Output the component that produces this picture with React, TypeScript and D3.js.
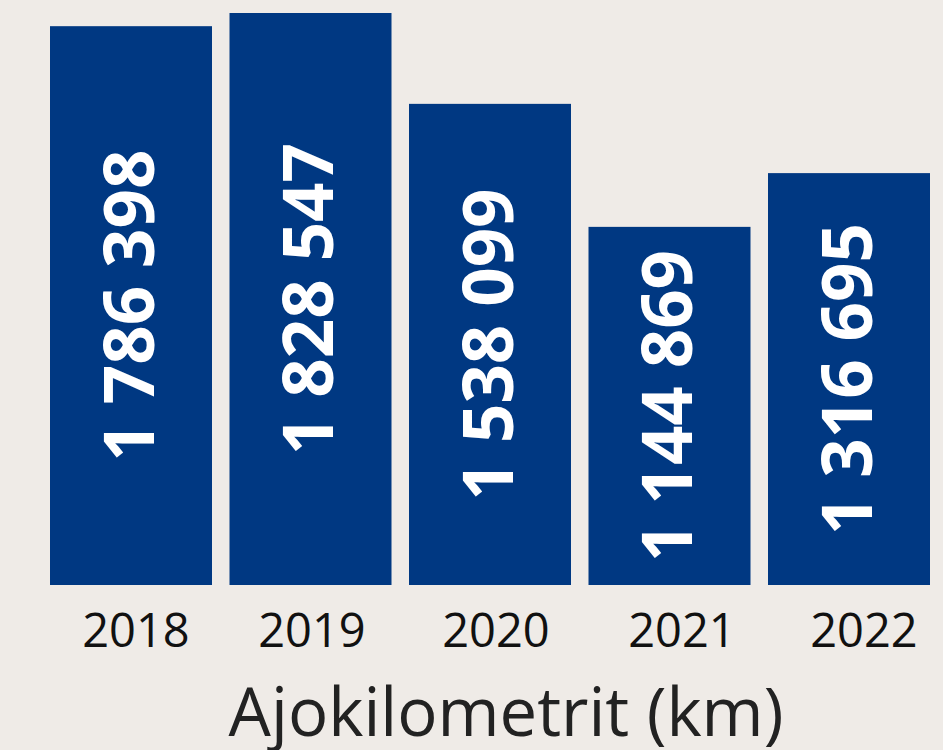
import React, { useEffect } from "react";
import * as d3 from "d3";

const years = ["2018", "2019", "2020", "2021", "2022"];
const values = [1786398, 1828547, 1538099, 1144869, 1316695];
const valueLabels = ["1 786 398", "1 828 547", "1 538 099", "1 144 869", "1 316 695"];
const axisTitle = "Ajokilometrit (km)";

const W = 943;
const H = 750;
const BG = "#efebe7";
const BAR = "#003882";

export default function App() {
  useEffect(() => {
    document.body.style.margin = "0";
    document.body.style.background = BG;
  }, []);

  const x = d3.scaleBand<string>().domain(years).range([50, 930]).paddingInner(0.0975).paddingOuter(0);
  const y = d3.scaleLinear().domain([0, d3.max(values) as number]).range([585, 13]);
  const xLabel = d3.scalePoint<string>().domain(years).range([136, 864]);
  const labelNudge = [0, -6, -4, 0, 0];

  return (
    <svg width={W} height={H} style={{ display: "block", background: BG }}>
      <rect x={0} y={0} width={W} height={H} fill={BG} />
      {years.map((yr, i) => {
        const bx = x(yr) as number;
        const by = y(values[i]);
        const bh = y(0) - by;
        const cx = bx + x.bandwidth() / 2 - 2;
        const cy = by + bh / 2;
        return (
          <g key={yr}>
            <rect x={bx} y={by} width={x.bandwidth()} height={bh} fill={BAR} />
            <text
              transform={`translate(${cx},${cy}) rotate(-90)`}
              textAnchor="middle"
              dy="0.36em"
              fill="#ffffff"
              fontFamily="'Open Sans', sans-serif"
              fontWeight={700}
              fontSize={69}
            >
              {valueLabels[i]}
            </text>
            <text
              x={(xLabel(yr) as number) + labelNudge[i]}
              y={647}
              textAnchor="middle"
              fill="#111111"
              fontFamily="'Open Sans', sans-serif"
              fontSize={47}
            >
              {yr}
            </text>
          </g>
        );
      })}
      <text
        x={506}
        y={736}
        textAnchor="middle"
        fill="#222222"
        fontFamily="'Open Sans', sans-serif"
        fontSize={67}
      >
        {axisTitle}
      </text>
    </svg>
  );
}
